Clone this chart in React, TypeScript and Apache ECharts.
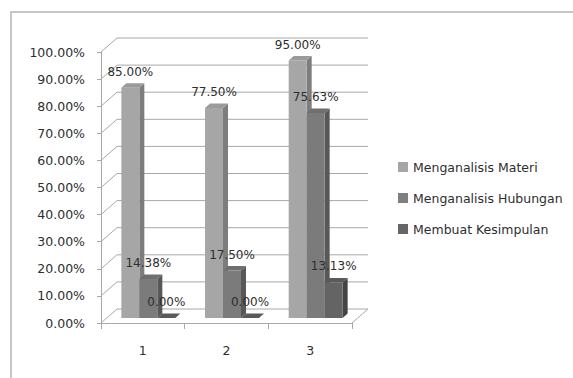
import React, { useEffect, useRef } from "react";
import * as echarts from "echarts";

// Categories and series values (percent)
const categories = ["1", "2", "3"];
const seriesNames = ["Menganalisis Materi", "Menganalisis Hubungan", "Membuat Kesimpulan"];
const materi = [85.0, 77.5, 95.0];
const hubungan = [14.38, 17.5, 75.63];
const kesimpulan = [0.0, 0.0, 13.13];
const yTicks = [0, 10, 20, 30, 40, 50, 60, 70, 80, 90, 100];

const FONT = "'DejaVu Sans', sans-serif";
const TEXT = "#2e2e2e";
const LINE = "#a8a8a8";

// Pseudo-3D geometry (pixels)
const WALL_DX = 16;
const WALL_DY = -14;
const BAR_DX = 5.5; // bars stand partway into the box
const BAR_DY = -5;
const DEPTH_DX = 5; // thickness of each column
const DEPTH_DY = -4.5;
const GROUP_FRACTION = 0.645;

const shades = [
  { front: "#a6a6a6", top: "#9a9a9a", side: "#7d7d7d", legend: "#a6a6a6" },
  { front: "#7b7b7b", top: "#6f6f6f", side: "#585858", legend: "#7f7f7f" },
  { front: "#646464", top: "#5a5a5a", side: "#444444", legend: "#666666" },
];

const seriesValues = [materi, hubungan, kesimpulan];

function wallSeries() {
  return {
    type: "custom",
    name: "walls",
    clip: false,
    silent: true,
    z: 1,
    encode: { x: 0, y: 1 },
    data: yTicks.map((v) => [0, v]),
    renderItem: (params: any, api: any) => {
      const cs = params.coordSys;
      const v = api.value(1);
      const y = api.coord([0, v])[1];
      const L = cs.x;
      const R = cs.x + cs.width;
      const children: any[] = [
        {
          type: "polyline",
          shape: {
            points: [
              [L, y],
              [L + WALL_DX, y + WALL_DY],
              [R + WALL_DX, y + WALL_DY],
            ],
          },
          style: { stroke: LINE, lineWidth: 1, fill: "none" },
        },
      ];
      if (v === 0) {
        children.push({
          type: "line",
          shape: { x1: R, y1: y, x2: R + WALL_DX, y2: y + WALL_DY },
          style: { stroke: LINE, lineWidth: 1 },
        });
      }
      return { type: "group", children };
    },
  };
}

function barSeries(k: number) {
  const shade = shades[k];
  return {
    type: "custom",
    name: seriesNames[k],
    clip: false,
    z: 2,
    itemStyle: { color: shade.legend },
    encode: { x: 0, y: 1 },
    data: seriesValues[k].map((v, i) => [i, v]),
    renderItem: (params: any, api: any) => {
      const ci = api.value(0);
      const v = api.value(1);
      const band = api.size([1, 0])[0];
      const barW = (band * GROUP_FRACTION) / 3;
      const c0 = api.coord([ci, 0]);
      const c1 = api.coord([ci, v]);
      const x0 = c0[0] - 1.5 * barW + k * barW + BAR_DX;
      const x1 = x0 + barW;
      const yb = c0[1] + BAR_DY;
      const yt = c1[1] + BAR_DY;
      return {
        type: "group",
        children: [
          {
            type: "polygon",
            shape: {
              points: [
                [x1, yb],
                [x1, yt],
                [x1 + DEPTH_DX, yt + DEPTH_DY],
                [x1 + DEPTH_DX, yb + DEPTH_DY],
              ],
            },
            style: { fill: shade.side },
          },
          {
            type: "rect",
            shape: { x: x0, y: yt, width: barW, height: Math.max(0, yb - yt) },
            style: { fill: shade.front },
          },
          {
            type: "polygon",
            shape: {
              points: [
                [x0, yt],
                [x1, yt],
                [x1 + DEPTH_DX, yt + DEPTH_DY],
                [x0 + DEPTH_DX, yt + DEPTH_DY],
              ],
            },
            style: { fill: shade.top },
          },
          {
            type: "text",
            x: (x0 + x1) / 2,
            y: yt - 16,
            z2: 10,
            style: {
              text: v.toFixed(2) + "%",
              align: "center",
              verticalAlign: "middle",
              fill: TEXT,
              fontSize: 12,
              fontFamily: FONT,
            },
          },
        ],
      };
    },
  };
}

export default function App() {
  const ref = useRef<HTMLDivElement>(null);

  useEffect(() => {
    if (!ref.current) return;
    const chart = echarts.init(ref.current, undefined, { renderer: "svg" });
    chart.setOption({
      animation: false,
      backgroundColor: "#ffffff",
      textStyle: { fontFamily: FONT },
      graphic: [
        {
          type: "rect",
          shape: { x: 11, y: 12, width: 700, height: 500 },
          style: { fill: "none", stroke: "#b4b4b4", lineWidth: 1.5 },
          silent: true,
        },
      ],
      grid: { left: 101, top: 52, width: 251, height: 271 },
      legend: {
        orient: "vertical",
        left: 398,
        top: 159.5,
        padding: 0,
        itemWidth: 10,
        itemHeight: 10,
        itemGap: 16,
        selectedMode: false,
        textStyle: { fontSize: 12.5, fontFamily: FONT, color: TEXT, lineHeight: 15 },
        data: seriesNames.map((name, k) => ({
          name,
          icon: "rect",
          itemStyle: { color: shades[k].legend },
        })),
      },
      xAxis: {
        type: "category",
        data: categories,
        axisLine: { show: true, lineStyle: { color: LINE, width: 1 } },
        axisTick: { show: true, length: 6, alignWithLabel: false, interval: 0, lineStyle: { color: LINE } },
        axisLabel: { margin: 21, fontSize: 12.5, fontFamily: FONT, color: TEXT },
        splitLine: { show: false },
      },
      yAxis: {
        type: "value",
        min: 0,
        max: 100,
        interval: 10,
        axisLine: { show: true, lineStyle: { color: LINE, width: 1 } },
        axisTick: { show: true, length: 4, lineStyle: { color: LINE } },
        axisLabel: {
          margin: 16,
          fontSize: 12.5,
          fontFamily: FONT,
          color: TEXT,
          formatter: (v: number) => v.toFixed(2) + "%",
        },
        splitLine: { show: false },
      },
      series: [wallSeries(), barSeries(0), barSeries(1), barSeries(2)],
    });
    return () => chart.dispose();
  }, []);

  return (
    <div
      ref={ref}
      style={{ position: "fixed", left: 0, top: 0, width: 573, height: 378, background: "#fff" }}
    />
  );
}
